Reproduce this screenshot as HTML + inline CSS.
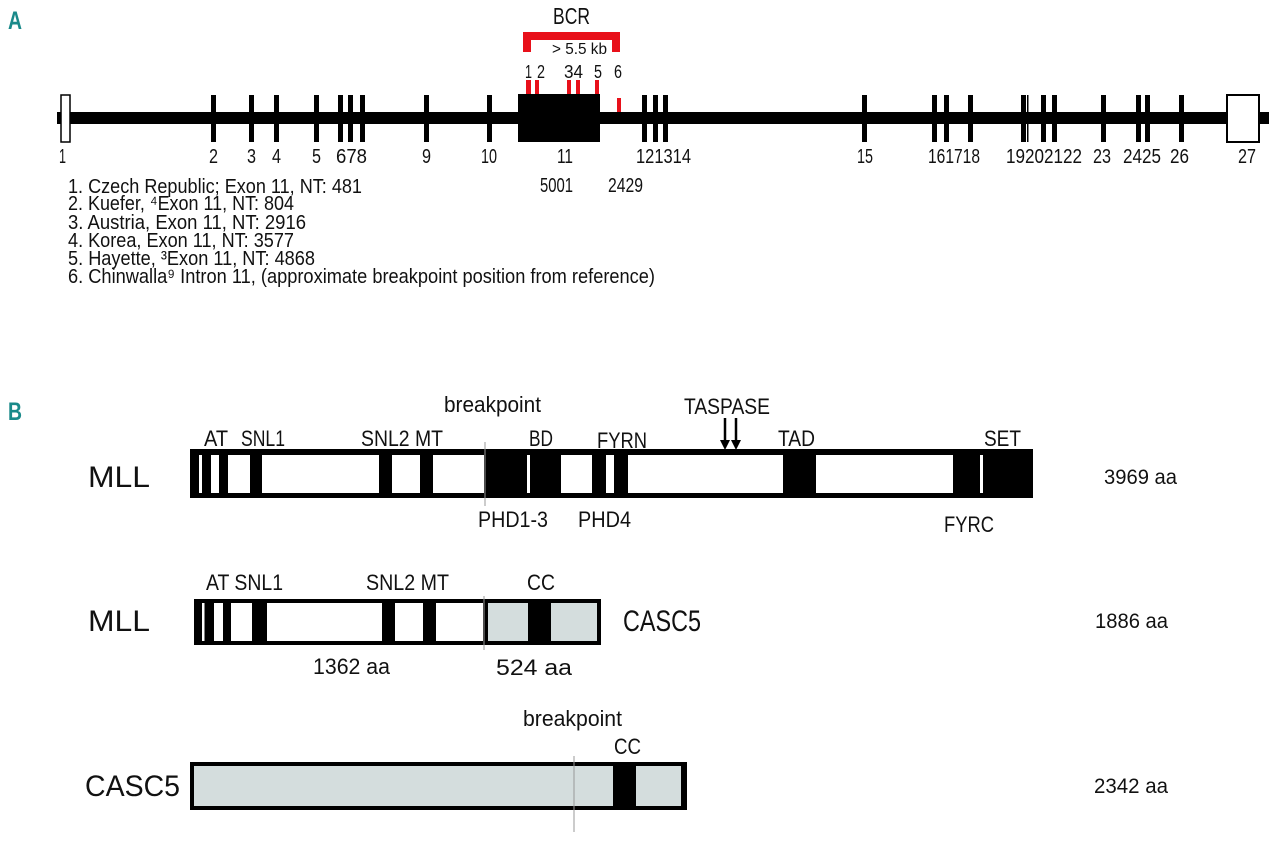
<!DOCTYPE html>
<html><head><meta charset="utf-8"><style>
html,body{margin:0;padding:0;background:#fff;}
svg{display:block;}
text{font-family:"Liberation Sans",sans-serif;fill:#111;}
</style></head><body>
<svg width="1280" height="847" viewBox="0 0 1280 847" xmlns="http://www.w3.org/2000/svg">
<!-- Panel A -->
<text x="8" y="29" style="font-size:25px;font-weight:bold;fill:#1a8a8a" textLength="14" lengthAdjust="spacingAndGlyphs">A</text>
<text x="553" y="24" style="font-size:23px" textLength="37" lengthAdjust="spacingAndGlyphs">BCR</text>
<path d="M523 32 H620 V52 H612 V40 H531 V52 H523 Z" fill="#e8101a"/>
<text x="552" y="54" style="font-size:16px" textLength="55" lengthAdjust="spacingAndGlyphs">&gt; 5.5 kb</text>
<g style="font-size:18px">
<text x="525" y="78" textLength="7" lengthAdjust="spacingAndGlyphs">1</text><text x="537" y="78" textLength="8" lengthAdjust="spacingAndGlyphs">2</text><text x="564" y="78" textLength="19" lengthAdjust="spacingAndGlyphs">34</text><text x="594" y="78" textLength="8" lengthAdjust="spacingAndGlyphs">5</text><text x="614" y="78" textLength="8" lengthAdjust="spacingAndGlyphs">6</text>
</g>
<g fill="#e8101a">
<rect x="526" y="80" width="5" height="14"/><rect x="535" y="80" width="4" height="14"/><rect x="567" y="80" width="4" height="14"/><rect x="576" y="80" width="4" height="14"/><rect x="595" y="80" width="4" height="14"/>
<rect x="617" y="98" width="4" height="15"/>
</g>
<rect x="57" y="112" width="1212" height="12" fill="#000"/>
<rect x="61" y="95" width="9" height="47" fill="#fff" stroke="#000" stroke-width="1.5"/>
<rect x="1227" y="95" width="32" height="47" fill="#fff" stroke="#000" stroke-width="2"/>
<rect x="518" y="94" width="82" height="48" fill="#000"/>
<g fill="#000">
<rect x="211" y="95" width="5" height="47"/><rect x="249" y="95" width="5" height="47"/><rect x="274" y="95" width="5" height="47"/><rect x="314" y="95" width="5" height="47"/>
<rect x="338" y="95" width="5" height="47"/><rect x="348" y="95" width="5" height="47"/><rect x="360" y="95" width="5" height="47"/>
<rect x="424" y="95" width="5" height="47"/><rect x="487" y="95" width="5" height="47"/>
<rect x="642" y="95" width="5" height="47"/><rect x="653" y="95" width="5" height="47"/><rect x="663" y="95" width="5" height="47"/>
<rect x="862" y="95" width="5" height="47"/><rect x="932" y="95" width="5" height="47"/><rect x="944" y="95" width="5" height="47"/><rect x="968" y="95" width="5" height="47"/>
<rect x="1021" y="95" width="5" height="47"/><rect x="1027" y="95" width="1.5" height="47"/><rect x="1041" y="95" width="5" height="47"/><rect x="1052" y="95" width="5" height="47"/>
<rect x="1101" y="95" width="5" height="47"/><rect x="1136" y="95" width="5" height="47"/><rect x="1145" y="95" width="5" height="47"/><rect x="1179" y="95" width="5" height="47"/>
</g>
<g style="font-size:20px">
<text x="59" y="163" textLength="7" lengthAdjust="spacingAndGlyphs">1</text><text x="209" y="163" textLength="9" lengthAdjust="spacingAndGlyphs">2</text><text x="247" y="163" textLength="9" lengthAdjust="spacingAndGlyphs">3</text><text x="272" y="163" textLength="9" lengthAdjust="spacingAndGlyphs">4</text><text x="312" y="163" textLength="9" lengthAdjust="spacingAndGlyphs">5</text>
<text x="336" y="163" textLength="31" lengthAdjust="spacingAndGlyphs">678</text>
<text x="422" y="163" textLength="9" lengthAdjust="spacingAndGlyphs">9</text><text x="481" y="163" textLength="16" lengthAdjust="spacingAndGlyphs">10</text>
<text x="557" y="163" textLength="16" lengthAdjust="spacingAndGlyphs">11</text>
<text x="636" y="163" textLength="55" lengthAdjust="spacingAndGlyphs">121314</text>
<text x="857" y="163" textLength="16" lengthAdjust="spacingAndGlyphs">15</text>
<text x="928" y="163" textLength="52" lengthAdjust="spacingAndGlyphs">161718</text>
<text x="1006" y="163" textLength="76" lengthAdjust="spacingAndGlyphs">19202122</text>
<text x="1093" y="163" textLength="18" lengthAdjust="spacingAndGlyphs">23</text>
<text x="1123" y="163" textLength="38" lengthAdjust="spacingAndGlyphs">2425</text>
<text x="1170" y="163" textLength="19" lengthAdjust="spacingAndGlyphs">26</text>
<text x="1238" y="163" textLength="18" lengthAdjust="spacingAndGlyphs">27</text>
</g>
<g style="font-size:20px">
<text x="540" y="192" textLength="33" lengthAdjust="spacingAndGlyphs">5001</text>
<text x="608" y="192" textLength="35" lengthAdjust="spacingAndGlyphs">2429</text>
<text x="68" y="193" textLength="294" lengthAdjust="spacingAndGlyphs">1. Czech Republic; Exon 11, NT: 481</text>
<text x="68" y="210" textLength="226" lengthAdjust="spacingAndGlyphs">2. Kuefer, ⁴Exon 11, NT: 804</text>
<text x="68" y="229" textLength="238" lengthAdjust="spacingAndGlyphs">3. Austria, Exon 11, NT: 2916</text>
<text x="68" y="247" textLength="226" lengthAdjust="spacingAndGlyphs">4. Korea, Exon 11, NT: 3577</text>
<text x="68" y="265" textLength="247" lengthAdjust="spacingAndGlyphs">5. Hayette, ³Exon 11, NT: 4868</text>
<text x="68" y="283" textLength="587" lengthAdjust="spacingAndGlyphs">6. Chinwalla⁹ Intron 11, (approximate breakpoint position from reference)</text>
</g>

<!-- Panel B -->
<text x="8" y="420" style="font-size:25px;font-weight:bold;fill:#1a8a8a" textLength="14" lengthAdjust="spacingAndGlyphs">B</text>
<g style="font-size:30px">
<text x="88" y="487" textLength="62" lengthAdjust="spacingAndGlyphs">MLL</text>
<text x="88" y="631" textLength="62" lengthAdjust="spacingAndGlyphs">MLL</text>
<text x="85" y="796" textLength="95" lengthAdjust="spacingAndGlyphs">CASC5</text>
<text x="623" y="631" textLength="78" lengthAdjust="spacingAndGlyphs">CASC5</text>
</g>
<g style="font-size:21px">
<text x="1104" y="484" textLength="73" lengthAdjust="spacingAndGlyphs">3969 aa</text>
<text x="1095" y="628" textLength="73" lengthAdjust="spacingAndGlyphs">1886 aa</text>
<text x="1094" y="793" textLength="74" lengthAdjust="spacingAndGlyphs">2342 aa</text>
</g>
<!-- MLL full -->
<rect x="190" y="449" width="843" height="49" fill="#000"/>
<g fill="#fff">
<rect x="199" y="455" width="3" height="38"/><rect x="211" y="455" width="8" height="38"/><rect x="228" y="455" width="22" height="38"/>
<rect x="262" y="455" width="117" height="38"/><rect x="392" y="455" width="28" height="38"/><rect x="433" y="455" width="51" height="38"/>
<rect x="527" y="455" width="3" height="38"/><rect x="561" y="455" width="31" height="38"/><rect x="606" y="455" width="8" height="38"/>
<rect x="628" y="455" width="155" height="38"/><rect x="816" y="455" width="137" height="38"/><rect x="980" y="455" width="3" height="38"/>
</g>
<line x1="485" y1="442" x2="485" y2="506" stroke="#999" stroke-width="1"/>
<g style="font-size:22px">
<text x="444" y="412" textLength="97" lengthAdjust="spacingAndGlyphs">breakpoint</text>
<text x="684" y="414" textLength="86" lengthAdjust="spacingAndGlyphs">TASPASE</text>
<text x="204" y="446" textLength="24" lengthAdjust="spacingAndGlyphs">AT</text>
<text x="241" y="446" textLength="44" lengthAdjust="spacingAndGlyphs">SNL1</text>
<text x="361" y="446" textLength="82" lengthAdjust="spacingAndGlyphs">SNL2 MT</text>
<text x="529" y="446" textLength="24" lengthAdjust="spacingAndGlyphs">BD</text>
<text x="597" y="448" textLength="50" lengthAdjust="spacingAndGlyphs">FYRN</text>
<text x="778" y="446" textLength="37" lengthAdjust="spacingAndGlyphs">TAD</text>
<text x="984" y="446" textLength="37" lengthAdjust="spacingAndGlyphs">SET</text>
<text x="478" y="527" textLength="70" lengthAdjust="spacingAndGlyphs">PHD1-3</text>
<text x="578" y="527" textLength="53" lengthAdjust="spacingAndGlyphs">PHD4</text>
<text x="944" y="532" textLength="50" lengthAdjust="spacingAndGlyphs">FYRC</text>
</g>
<g stroke="#000" stroke-width="2.5" fill="#000">
<line x1="725" y1="418" x2="725" y2="442"/><line x1="736" y1="418" x2="736" y2="442"/>
</g>
<path d="M720 440 L730 440 L725 450 Z M731 440 L741 440 L736 450 Z" fill="#000"/>
<!-- Fusion -->
<rect x="194" y="599" width="407" height="46" fill="#000"/>
<g fill="#fff">
<rect x="202" y="603" width="2.5" height="38"/><rect x="214" y="603" width="9" height="38"/><rect x="231" y="603" width="21" height="38"/>
<rect x="267" y="603" width="115" height="38"/><rect x="395" y="603" width="28" height="38"/><rect x="436" y="603" width="47" height="38"/>
</g>
<g fill="#d4dddd">
<rect x="488" y="603" width="40" height="38"/><rect x="551" y="603" width="46" height="38"/>
</g>
<line x1="484" y1="596" x2="484" y2="650" stroke="#999" stroke-width="1"/>
<g style="font-size:22px">
<text x="206" y="590" textLength="77" lengthAdjust="spacingAndGlyphs">AT SNL1</text>
<text x="366" y="590" textLength="83" lengthAdjust="spacingAndGlyphs">SNL2 MT</text>
<text x="527" y="590" textLength="28" lengthAdjust="spacingAndGlyphs">CC</text>
<text x="313" y="674" textLength="77" lengthAdjust="spacingAndGlyphs">1362 aa</text>
<text x="496" y="675" textLength="76" lengthAdjust="spacingAndGlyphs">524 aa</text>
</g>
<!-- CASC5 -->
<rect x="190" y="762" width="497" height="48" fill="#000"/>
<rect x="194" y="766" width="419" height="40" fill="#d4dddd"/>
<rect x="636" y="766" width="45" height="40" fill="#d4dddd"/>
<line x1="574" y1="756" x2="574" y2="832" stroke="#999" stroke-width="1"/>
<g style="font-size:22px">
<text x="523" y="726" textLength="99" lengthAdjust="spacingAndGlyphs">breakpoint</text>
<text x="614" y="754" textLength="27" lengthAdjust="spacingAndGlyphs">CC</text>
</g>
</svg>
</body></html>
